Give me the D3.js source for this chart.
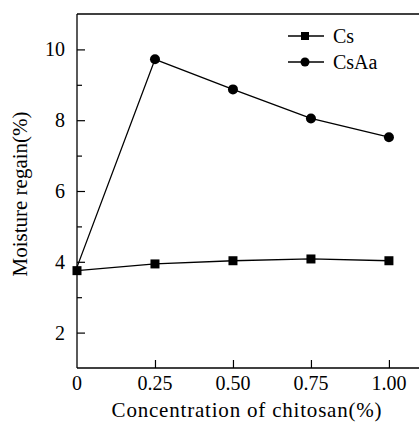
<!DOCTYPE html>
<html><head><meta charset="utf-8">
<script src="https://cdn.jsdelivr.net/npm/d3@7"></script>
<style>body{margin:0;background:#fff}svg{display:block}</style>
</head><body><svg id="c" width="419" height="423"></svg>
<script>
const concentrations = [0, 0.25, 0.50, 0.75, 1.00];
const csValues = [3.75, 3.94, 4.03, 4.08, 4.03];
const csAaValues = [3.85, 9.72, 8.87, 8.05, 7.52];
const xTicks = [0.25, 0.50, 0.75, 1.00];
const xTickLabels = ["0.25", "0.50", "0.75", "1.00"];
const yMajorTicks = [2, 4, 6, 8, 10];
const yMinorTicks = [3, 5, 7, 9];
const seriesNames = ["Cs", "CsAa"];

const FONT = "'Liberation Serif', 'DejaVu Serif', serif";
const svg = d3.select("#c").attr("font-family", FONT);
const x = d3.scaleLinear().domain([0, 1.09]).range([77, 417]);
const y = d3.scaleLinear().domain([1, 11]).range([368, 14]);

// frame: left, bottom, top
const g = svg.append("g").attr("stroke", "#000").attr("stroke-width", 1.3).attr("fill", "none");
g.append("line").attr("x1", x(0)).attr("x2", x(0)).attr("y1", y(1)).attr("y2", y(11));
g.append("line").attr("x1", x(0)).attr("x2", 419).attr("y1", y(1)).attr("y2", y(1));
g.append("line").attr("x1", x(0)).attr("x2", 419).attr("y1", y(11)).attr("y2", y(11));

// y ticks (inward)
const yAxis = d3.axisRight(y).tickValues(yMajorTicks).tickSize(8).tickFormat("");
const ya = svg.append("g").attr("transform", `translate(${x(0)},0)`).call(yAxis);
ya.select(".domain").remove();
ya.selectAll("line").attr("stroke-width", 1.2);
const yAxisMinor = d3.axisRight(y).tickValues(yMinorTicks).tickSize(5).tickFormat("");
const ym = svg.append("g").attr("transform", `translate(${x(0)},0)`).call(yAxisMinor);
ym.select(".domain").remove();
ym.selectAll("line").attr("stroke-width", 1.2);
svg.append("g").selectAll("text").data(yMajorTicks).join("text")
  .attr("font-family", FONT)
  .attr("x", x(0) - 12).attr("y", d => y(d)).attr("dy", "0.35em")
  .attr("text-anchor", "end").attr("font-size", 20).text(d => d);

// x ticks (inward)
const xAxis = d3.axisTop(x).tickValues(xTicks).tickSize(8).tickFormat("");
const xa = svg.append("g").attr("transform", `translate(0,${y(1)})`).call(xAxis);
xa.select(".domain").remove();
xa.selectAll("line").attr("stroke-width", 1.2);
svg.append("g").selectAll("text").data([0].concat(xTicks)).join("text")
  .attr("font-family", FONT)
  .attr("x", d => x(d)).attr("y", y(1) + 22)
  .attr("text-anchor", "middle").attr("font-size", 20)
  .text((d, i) => i === 0 ? "0" : xTickLabels[i - 1]);

// axis titles
svg.append("text").attr("font-family", FONT).attr("x", 247).attr("y", 417).attr("text-anchor", "middle")
  .attr("font-size", 21).attr("letter-spacing", 0.8).text("Concentration of chitosan(%)");
svg.append("text").attr("font-family", FONT).attr("transform", "translate(27,194) rotate(-90)")
  .attr("text-anchor", "middle").attr("font-size", 21).text("Moisture regain(%)");

const line = d3.line().x(d => x(d[0])).y(d => y(d[1]));
const csData = concentrations.map((c, i) => [c, csValues[i]]);
const csAaData = concentrations.map((c, i) => [c, csAaValues[i]]);

svg.append("path").datum(csAaData).attr("d", line).attr("fill", "none").attr("stroke", "#000").attr("stroke-width", 1.3);
svg.append("path").datum(csData).attr("d", line).attr("fill", "none").attr("stroke", "#000").attr("stroke-width", 1.3);

svg.append("g").selectAll("circle").data(csAaData.slice(1)).join("circle")
  .attr("cx", d => x(d[0])).attr("cy", d => y(d[1])).attr("r", 5).attr("fill", "#000");
svg.append("g").selectAll("rect").data(csData).join("rect")
  .attr("x", d => x(d[0]) - 4.5).attr("y", d => y(d[1]) - 4.5)
  .attr("width", 9).attr("height", 9).attr("fill", "#000");

// legend
const legY = [36, 62];
const lg = svg.append("g");
seriesNames.forEach((name, i) => {
  lg.append("line").attr("x1", 288).attr("x2", 324).attr("y1", legY[i]).attr("y2", legY[i])
    .attr("stroke", "#000").attr("stroke-width", 1.3);
  if (i === 0) lg.append("rect").attr("x", 301).attr("y", legY[i] - 4).attr("width", 8).attr("height", 8).attr("fill", "#000");
  else lg.append("circle").attr("cx", 305).attr("cy", legY[i]).attr("r", 4.5).attr("fill", "#000");
  lg.append("text").attr("font-family", FONT).attr("x", 333).attr("y", legY[i]).attr("dy", "0.35em").attr("font-size", 20).text(name);
});
</script></body></html>
